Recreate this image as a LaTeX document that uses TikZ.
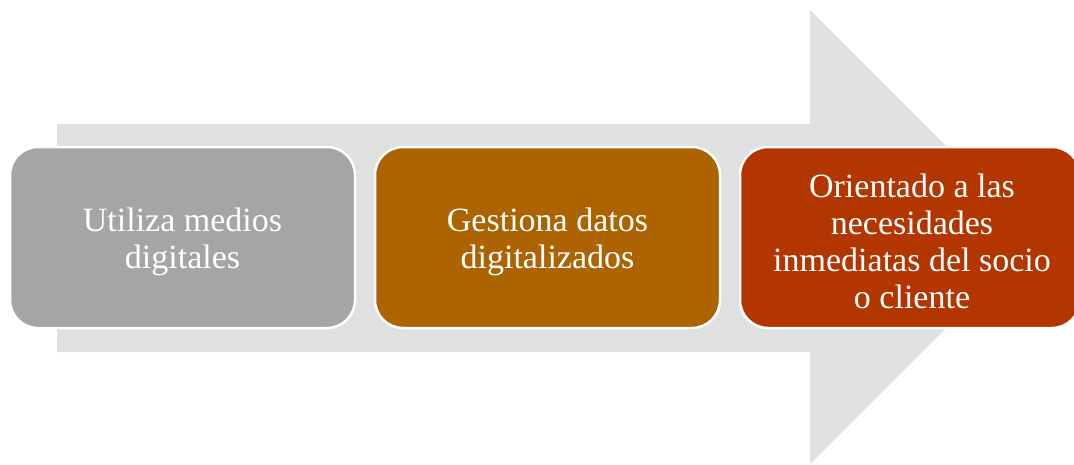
\documentclass[tikz,border=0pt]{standalone}
\usepackage{fontspec}
\setmainfont{Liberation Serif}
\usetikzlibrary{positioning}

\definecolor{flecha}{HTML}{E0E0E0}
\definecolor{gris}{HTML}{A5A5A5}
\definecolor{ocre}{HTML}{AD6400}
\definecolor{rojo}{HTML}{B33500}

\tikzset{
    paso/.style={draw=white, line width=2.5pt, rounded corners=28pt, minimum width=345pt, minimum height=181pt, inner sep=0pt},
    texto/.style={text=white, align=center, font=\fontsize{34}{37}\selectfont, inner sep=0pt, yshift=-4pt}
}

\begin{document}
\begin{tikzpicture}[x=1pt, y=-1pt]
        \useasboundingbox (0,0) rectangle (1074,464);
        \fill [flecha] (57,124) -- (810,124) -- (810,10) -- (1037,237) -- (810,464) -- (810,352) -- (57,352) -- cycle;
        \node [paso, fill=gris] (medios) at (182.5,237.5) {};
        \node [paso, fill=ocre, right=17.5pt of medios] (datos) {};
        \node [paso, fill=rojo, right=17.5pt of datos, minimum width=340pt] (socio) {};
        \node [texto] (tmedios) at (medios) {Utiliza medios\\digitales};
        \node [texto] (tdatos) at (datos) {Gestiona datos\\digitalizados};
        \node [texto, xshift=2pt] (tsocio) at (socio) {Orientado a las\\necesidades\\inmediatas del socio\\o cliente};
    \end{tikzpicture}
\end{document}
